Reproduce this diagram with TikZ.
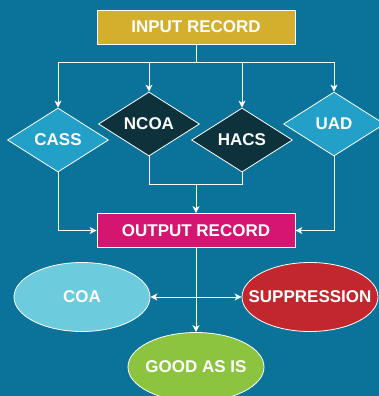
\documentclass[tikz,border=0pt]{standalone}
\usepackage{xcolor}
\usepackage{fontspec}
\setmainfont{Liberation Sans}
\usepackage{tikz}
\usetikzlibrary{positioning, shapes.geometric, arrows.meta, calc}
\definecolor{bgblue}{HTML}{0B7399}
\definecolor{gold}{HTML}{D4AF2E}
\definecolor{magenta}{HTML}{D5156F}
\definecolor{lightblue}{HTML}{22A0C8}
\definecolor{darkteal}{HTML}{0E323C}
\definecolor{coablue}{HTML}{6CCBDC}
\definecolor{supred}{HTML}{C1272D}
\definecolor{goodgreen}{HTML}{8CC43F}
\tikzstyle{block} = [rectangle, draw=white, line width=0.8pt, text=white,
    font=\bfseries\fontsize{17}{20}\selectfont, minimum width=198pt, minimum height=34pt, inner sep=0pt]
\tikzstyle{decision} = [diamond, draw=white, line width=0.8pt, text=white,
    font=\bfseries\fontsize{17}{20}\selectfont, minimum width=101pt, minimum height=64pt, inner sep=0pt]
\tikzstyle{result} = [ellipse, draw=white, line width=0.8pt, minimum width=136pt, minimum height=69pt, inner sep=0pt]
\tikzstyle{resulttext} = [text=white, font=\bfseries\fontsize{17}{20}\selectfont]
\tikzstyle{line} = [draw=white, line width=1pt]

\begin{document}
\begin{tikzpicture}[x=1pt, y=1pt, >={Stealth[length=7pt, width=7pt, inset=2pt]}]
                % Background
                \fill [bgblue] (0,0) rectangle (379,-396);
                \useasboundingbox (0,0) rectangle (379,-396);

                % Nodes
                \node [block, fill=gold] (input) at (196,-27) {INPUT RECORD};
                \node [block, fill=magenta, below of=input, node distance=203.5pt] (output) {OUTPUT RECORD};

                \node [decision, fill=lightblue] (cass) at (58,-140) {CASS};
                \node [decision, fill=darkteal] (ncoa) at (149,-124) {NCOA};
                \node [decision, fill=darkteal, right of=cass, node distance=184pt] (hacs) {HACS};
                \node [decision, fill=lightblue, right of=ncoa, node distance=185pt] (uad) {UAD};

                \node [result, fill=coablue, label={[resulttext]center:COA}] (coa) at (82,-297) {};
                \node [result, fill=supred, right of=coa, node distance=228pt, label={[resulttext]center:SUPPRESSION}] (supp) {};
                \node [result, fill=goodgreen, below of=output, node distance=136.5pt, label={[resulttext]center:GOOD AS IS}] (good) {};

                % Connections
                \draw [line, ->] (input.south) -- ++(0,-18) -| (cass.north);
                \draw [line, ->] (input.south) -- ++(0,-18) -| (ncoa.north);
                \draw [line, ->] (input.south) -- ++(0,-18) -| (hacs.north);
                \draw [line, ->] (input.south) -- ++(0,-18) -| (uad.north);

                \coordinate (merge) at ([yshift=-28pt]ncoa.south -| output);
                \draw [line] (ncoa.south) |- (merge) -| (hacs.south);
                \draw [line, ->] (merge) -- (output.north);
                \draw [line, ->] (cass.south) |- (output.west);
                \draw [line, ->] (uad.south) |- (output.east);

                \draw [line, ->] (output.south) -- (good.north);
                \draw [line, <->] (coa.east) -- (supp.west);

            \end{tikzpicture}
\end{document}
